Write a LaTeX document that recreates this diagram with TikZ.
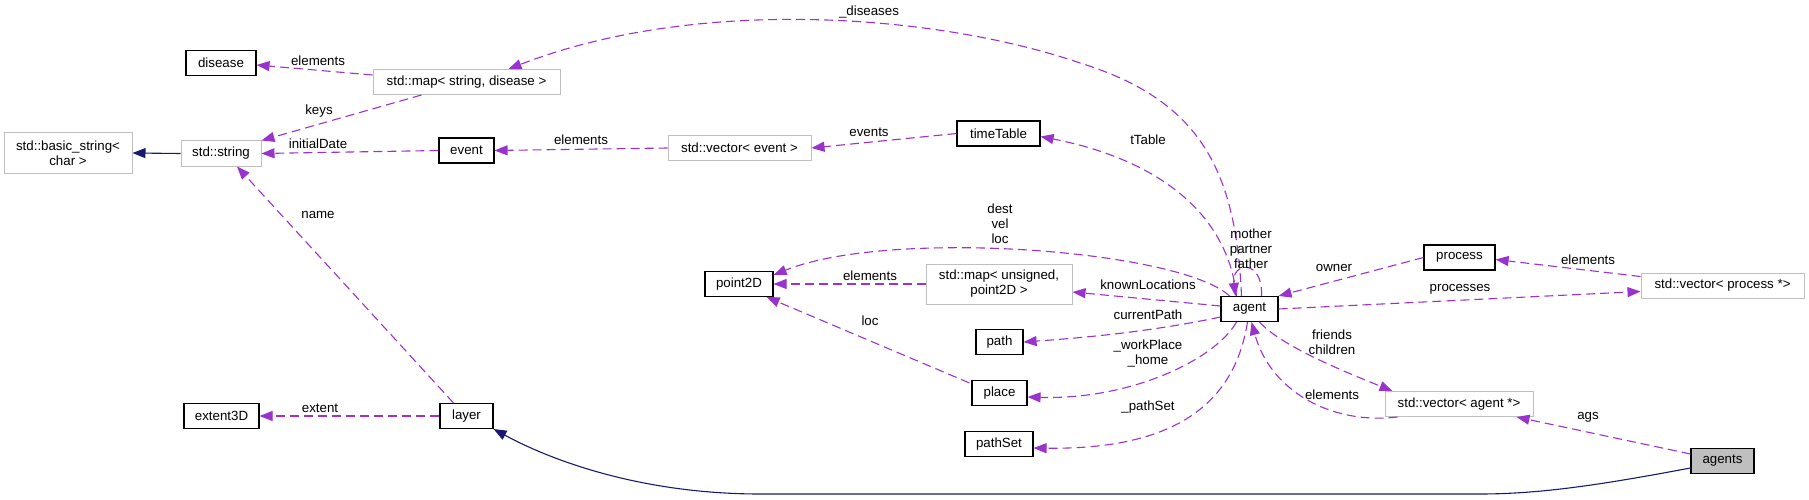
\documentclass[tikz,border=0pt]{standalone}
\usepackage{fontspec}
\setmainfont{Liberation Sans}
\usetikzlibrary{arrows.meta,calc}
\definecolor{edgepurple}{HTML}{9A32CD}
\definecolor{inhblue}{HTML}{191970}
\definecolor{extgray}{HTML}{BFBFBF}
\begin{document}
\begin{tikzpicture}[x=1pt,y=-1pt,
  every node/.style={font=\fontsize{13.3}{15}\selectfont, inner sep=0pt},
  cls/.style={draw=black, line width=1.1pt, fill=white, minimum height=25pt, align=center},
  extcls/.style={draw=extgray, line width=1pt, fill=white, minimum height=25pt, align=center},
  usage/.style={draw=edgepurple, line width=1.1pt, dash pattern=on 9pt off 5pt, -{Triangle[length=13pt,width=10pt]}},
  inher/.style={draw=inhblue, line width=1.1pt, -{Triangle[length=13pt,width=10pt]}},
  lbl/.style={align=center}]
\useasboundingbox (0,0) rectangle (1809,500);

% nodes
\node[cls, minimum width=70pt] (disease) at (221,63) {disease};
\node[extcls, minimum width=187pt] (mapSD) at (466.5,82) {std::map< string, disease >};
\node[extcls, minimum width=128pt, minimum height=40pt] (bstr) at (68,153) {std::basic\_string<\\char >};
\node[extcls, minimum width=80pt] (str) at (221,153.5) {std::string};
\node[cls, minimum width=55pt] (event) at (466.5,150.5) {event};
\node[extcls, minimum width=143pt] (vecE) at (739.5,148) {std::vector< event >};
\node[cls, minimum width=83pt] (tt) at (998.5,133.5) {timeTable};
\node[cls, minimum width=68pt] (p2d) at (739,284) {point2D};
\node[extcls, minimum width=146pt, minimum height=40pt] (mapUP) at (999,284) {std::map< unsigned,\\point2D >};
\node[cls, minimum width=57pt] (agent) at (1249.5,309) {agent};
\node[cls, minimum width=71pt] (process) at (1459.5,257.5) {process};
\node[extcls, minimum width=163pt] (vecP) at (1722.5,285.5) {std::vector< process *>};
\node[cls, minimum width=47pt] (path) at (999.5,342) {path};
\node[cls, minimum width=55pt] (place) at (999.5,393) {place};
\node[cls, minimum width=68pt] (pathSet) at (999,444) {pathSet};
\node[cls, minimum width=75pt] (ext) at (221.5,416) {extent3D};
\node[cls, minimum width=53pt] (layer) at (466.5,416) {layer};
\node[extcls, minimum width=148pt] (vecA) at (1459,404) {std::vector< agent *>};
\node[cls, fill=extgray, minimum width=63pt] (agents) at (1722.5,461) {agents};

% inheritance edges
\draw[inher] (str.west) -- (bstr.east);
\draw[inher] ($(agents.west)+(0,7)$) .. controls (1600,485) and (1540,494) .. (1480,494)
  -- (760,494) .. controls (650,494) and (560,465) .. (layer.south east);

% usage edges
\draw[usage] ($(mapSD.west)+(0,-7)$) -- ($(disease.east)+(0,2)$);
\node[lbl] (l1) at (318,61) {elements};
\draw[usage] ($(mapSD.south)+(-45,0)$) -- (str.north east);
\node[lbl] (l2) at (319,111) {keys};
\draw[usage] (event.west) -- (str.east);
\node[lbl] (l3) at (318,144) {initialDate};
\draw[usage] ($(layer.north)+(-13,0)$) -- ($(str.south)+(16,0)$);
\node[lbl] (l4) at (318,215) {name};
\draw[usage] (layer.west) -- (ext.east);
\node[lbl] (l5) at (320,408) {extent};
\draw[usage] (vecE.west) -- (event.east);
\node[lbl] (l6) at (581,140) {elements};
\draw[usage] (tt.west) -- (vecE.east);
\node[lbl] (l7) at (869,132) {events};
\draw[usage] ($(agent.north)+(-13,0)$) .. controls (1228,215) and (1160,160) .. ($(tt.east)+(0,3)$);
\node[lbl] (l8) at (1148,140) {tTable};
\draw[usage] ($(agent.north)+(-8,0)$) .. controls (1236,170) and (1200,100) .. (1080,63)
  .. controls (940,15) and (700,-5) .. ($(mapSD.north)+(42,0)$);
\node[lbl] (l9) at (869,12) {\_diseases};
\draw[usage] ($(agent.north)+(-20,0)$) .. controls (1180,250) and (890,228) .. ($(p2d.east)+(0,-9)$);
\node[lbl] (l10) at (1000,224) {dest\\vel\\loc};
\draw[usage] (mapUP.west) -- (p2d.east);
\node[lbl] (l11) at (870,276) {elements};
\draw[usage] ($(agent.west)+(0,-3)$) -- ($(mapUP.east)+(0,8)$);
\node[lbl] (l12) at (1148,285) {knownLocations};
\draw[usage] ($(agent.west)+(0,8)$) .. controls (1150,332) and (1080,338) .. (path.east);
\node[lbl] (l13) at (1148,315) {currentPath};
\draw[usage] ($(agent.south)+(-13,0)$) .. controls (1215,360) and (1130,400) .. ($(place.east)+(0,4)$);
\node[lbl] (l14) at (1148,354) {\_workPlace\\\_home};
\draw[usage] ($(agent.south)+(-2,0)$) .. controls (1235,400) and (1180,450) .. ($(pathSet.east)+(0,4)$);
\node[lbl] (l15) at (1148,407) {\_pathSet};
\draw[usage] ($(place.north west)+(-2,3)$) -- ($(p2d.south east)+(-7,0)$);
\node[lbl] (l16) at (870,321) {loc};
\draw[usage] ($(agent.north)+(12,0)$) .. controls (1263,258) and (1231,262) .. ($(agent.north)+(-14,0)$);
\node[lbl] (l17) at (1251,249) {mother\\partner\\father};
\draw[usage] (process.west) -- (agent.north east);
\node[lbl] (l18) at (1334,268) {owner};
\draw[usage] (agent.east) -- ($(vecP.west)+(0,6)$);
\node[lbl] (l19) at (1460,289) {processes};
\draw[usage] ($(vecP.west)+(0,-9)$) -- ($(process.east)+(0,2)$);
\node[lbl] (l20) at (1588,260) {elements};
\draw[usage] ($(agent.south)+(10,0)$) .. controls (1280,345) and (1340,370) .. ($(vecA.north west)+(8,0)$);
\node[lbl] (l21) at (1332,342) {friends\\children};
\draw[usage] ($(vecA.south west)+(13,0)$) .. controls (1330,425) and (1270,390) .. ($(agent.south)+(2,0)$);
\node[lbl] (l22) at (1332,395) {elements};
\draw[usage] ($(agents.west)+(0,-7)$) -- ($(vecA.south east)+(-17,0)$);
\node[lbl] (l23) at (1588,417) {ags};
\end{tikzpicture}
\end{document}
